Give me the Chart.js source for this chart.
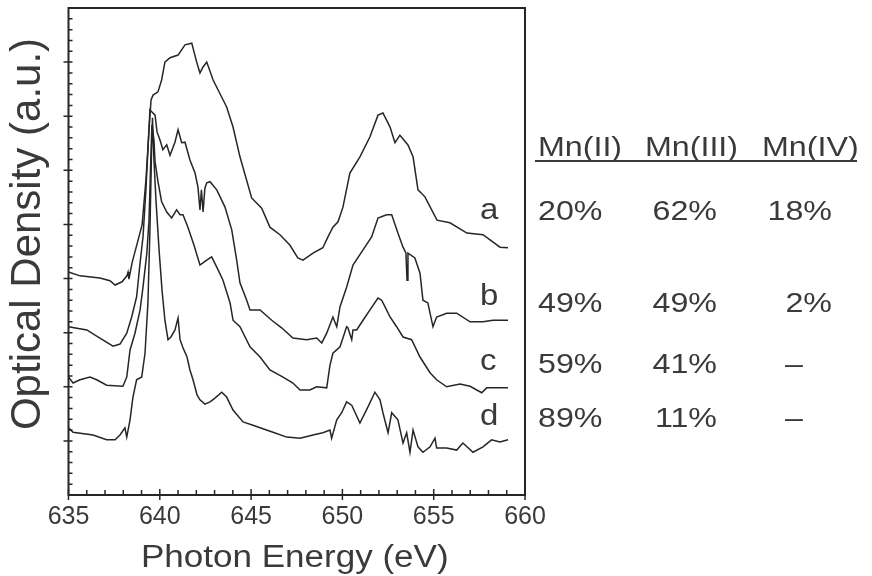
<!DOCTYPE html>
<html>
<head>
<meta charset="utf-8">
<script src="https://cdn.jsdelivr.net/npm/chart.js@4.4.1/dist/chart.umd.min.js"></script>
<style>
  html, body { margin: 0; padding: 0; background: #fff; }
  #wrap { width: 872px; height: 576px; }
</style>
</head>
<body>
<div id="wrap"><canvas id="spectra" width="872" height="576"></canvas></div>
<script>
// Mn L-edge spectra (photon energy in eV, optical density in a.u.)
const energyA = [635.0, 635.63, 636.72, 637.27, 637.55, 637.93, 638.2, 638.26, 638.31, 638.48, 638.81, 639.03, 639.24, 639.41, 639.52, 639.63, 639.9, 640.1, 640.28, 640.56, 641.0, 641.38, 641.75, 642.02, 642.2, 642.37, 642.57, 642.92, 643.66, 644.01, 644.39, 645.03, 645.58, 646.03, 646.58, 647.12, 647.56, 647.84, 648.39, 648.93, 649.21, 649.48, 649.76, 650.03, 650.41, 650.96, 651.51, 651.95, 652.22, 652.61, 652.88, 653.15, 653.59, 653.87, 654.14, 654.52, 655.18, 655.89, 656.82, 657.7, 658.63, 659.07];
const odA = [4.12, 4.05, 4.01, 3.96, 3.88, 3.94, 4.05, 4.12, 3.99, 4.29, 4.71, 4.99, 5.82, 6.75, 7.30, 7.39, 7.45, 7.67, 8.00, 8.08, 8.13, 8.32, 8.35, 8.00, 7.80, 7.91, 8.00, 7.67, 7.17, 6.80, 6.25, 5.49, 5.30, 4.95, 4.81, 4.62, 4.38, 4.34, 4.47, 4.57, 4.77, 4.95, 5.05, 5.32, 5.95, 6.25, 6.62, 7.02, 7.06, 6.80, 6.51, 6.65, 6.47, 6.25, 5.64, 5.51, 5.08, 5.03, 4.84, 4.81, 4.58, 4.57];

const energyB = [635.0, 636.0, 636.72, 637.44, 637.82, 638.19, 638.46, 638.73, 638.92, 639.08, 639.24, 639.35, 639.46, 639.57, 639.74, 639.85, 640.01, 640.17, 640.38, 640.56, 640.83, 641.0, 641.2, 641.38, 641.65, 641.93, 642.09, 642.2, 642.28, 642.37, 642.47, 642.57, 642.75, 643.12, 643.57, 643.94, 644.21, 644.39, 644.76, 644.94, 645.49, 646.13, 646.67, 647.29, 648.04, 648.59, 648.87, 649.14, 649.48, 649.69, 649.87, 650.23, 650.58, 651.13, 651.6, 651.95, 652.42, 652.7, 653.04, 653.32, 653.48, 653.54, 653.59, 653.97, 654.25, 654.41, 654.68, 654.96, 655.16, 655.71, 656.26, 656.99, 657.7, 658.25, 659.07];
const odB = [3.11, 3.05, 2.90, 2.75, 2.79, 2.99, 3.29, 3.66, 4.29, 4.77, 5.64, 6.38, 7.12, 7.08, 7.02, 6.71, 6.56, 6.38, 6.47, 6.28, 6.52, 6.75, 6.51, 6.52, 6.19, 5.95, 5.69, 5.27, 5.64, 5.23, 5.67, 5.77, 5.79, 5.64, 5.32, 4.90, 4.34, 3.92, 3.60, 3.42, 3.42, 3.23, 3.09, 2.90, 2.87, 2.90, 2.81, 2.99, 3.29, 3.11, 3.48, 3.84, 4.25, 4.53, 4.77, 5.12, 5.18, 5.18, 4.84, 4.58, 4.47, 3.97, 4.47, 4.38, 4.10, 3.60, 3.55, 3.11, 3.29, 3.36, 3.36, 3.20, 3.20, 3.23, 3.23];

const energyC = [635.0, 635.25, 635.63, 636.18, 636.54, 637.09, 637.98, 638.19, 638.37, 638.64, 638.92, 639.08, 639.29, 639.41, 639.49, 639.57, 639.68, 639.74, 639.9, 640.1, 640.38, 640.65, 640.92, 641.11, 641.27, 641.54, 641.87, 642.2, 642.57, 642.84, 643.12, 643.46, 643.85, 644.01, 644.39, 644.94, 645.49, 646.03, 646.75, 647.29, 647.68, 648.22, 648.59, 649.14, 649.32, 649.48, 649.87, 650.23, 650.3, 650.51, 650.58, 650.78, 651.13, 651.51, 651.95, 652.15, 652.33, 652.61, 652.97, 653.32, 653.79, 654.25, 654.8, 655.16, 655.71, 656.44, 656.99, 657.63, 657.9, 659.07];
const odC = [2.18, 2.07, 2.13, 2.18, 2.13, 2.03, 2.01, 2.18, 2.68, 2.99, 3.42, 3.84, 4.47, 5.08, 6.01, 6.84, 6.56, 6.16, 5.79, 5.42, 5.23, 5.12, 5.27, 5.18, 5.18, 4.95, 4.62, 4.25, 4.34, 4.40, 4.21, 3.97, 3.55, 3.23, 3.11, 2.74, 2.55, 2.31, 2.18, 2.07, 1.94, 1.94, 2.00, 1.98, 2.40, 2.62, 2.74, 3.11, 3.09, 2.87, 3.05, 3.05, 3.23, 3.42, 3.64, 3.60, 3.48, 3.29, 3.11, 2.92, 2.87, 2.55, 2.26, 2.13, 2.00, 2.05, 2.01, 1.89, 1.98, 1.98];

const energyD = [635.0, 635.25, 636.34, 637.09, 637.55, 637.82, 638.09, 638.19, 638.37, 638.53, 638.73, 639.01, 639.19, 639.35, 639.46, 639.55, 639.6, 639.68, 639.79, 639.96, 640.12, 640.28, 640.45, 640.61, 640.83, 641.0, 641.11, 641.27, 641.49, 641.65, 641.82, 642.04, 642.2, 642.47, 642.75, 643.02, 643.39, 643.66, 644.01, 644.56, 645.1, 646.2, 646.95, 647.68, 648.39, 648.93, 649.32, 649.41, 649.69, 649.96, 650.23, 650.51, 650.96, 651.4, 651.78, 652.06, 652.22, 652.5, 652.7, 653.04, 653.32, 653.52, 653.7, 653.87, 654.14, 654.41, 654.8, 655.07, 655.16, 655.71, 656.26, 656.6, 657.15, 657.7, 658.17, 658.63, 659.07];
const odD = [1.24, 1.16, 1.11, 1.02, 1.02, 1.11, 1.24, 1.07, 1.39, 1.81, 2.13, 2.18, 2.62, 3.55, 4.90, 6.38, 6.97, 6.19, 5.45, 4.53, 3.79, 3.23, 2.87, 2.92, 3.05, 3.27, 2.87, 2.72, 2.55, 2.31, 2.13, 1.85, 1.76, 1.68, 1.72, 1.79, 1.90, 1.81, 1.57, 1.35, 1.29, 1.16, 1.07, 1.05, 1.11, 1.15, 1.20, 1.05, 1.39, 1.52, 1.72, 1.66, 1.33, 1.63, 1.90, 1.76, 1.52, 1.15, 1.52, 1.39, 0.96, 1.15, 0.79, 1.20, 0.89, 0.79, 0.89, 1.05, 0.87, 0.87, 0.83, 0.96, 0.79, 0.89, 1.02, 0.98, 1.02];

const curveLabels = ['a', 'b', 'c', 'd'];
const tableHeader = ['Mn(II)', 'Mn(III)', 'Mn(IV)'];
const tableMnII = ['20%', '49%', '59%', '89%'];
const tableMnIII = ['62%', '49%', '41%', '11%'];
const tableMnIV = ['18%', '2%', '–', '–'];

const INK = '#262626';
const TEXT = '#3a3a3a';
const FONT = '"Liberation Sans", Arial, sans-serif';

function toPoints(xs, ys) {
  return xs.map((e, i) => ({ x: e, y: ys[i] }));
}

// draw text squeezed/stretched horizontally like the original artwork
function stretchText(ctx, str, x, y, size, align, sx) {
  ctx.save();
  ctx.font = size + 'px ' + FONT;
  ctx.textAlign = align;
  ctx.textBaseline = 'alphabetic';
  ctx.translate(x, y);
  ctx.scale(sx, 1);
  ctx.fillText(str, 0, 0);
  ctx.restore();
}

const framePlugin = {
  id: 'frame',
  afterDatasetsDraw(chart) {
    const { ctx, chartArea: a, scales: { x, y } } = chart;
    ctx.save();
    ctx.strokeStyle = INK;
    ctx.lineWidth = 2;
    ctx.strokeRect(a.left, a.top, a.right - a.left, a.bottom - a.top);

    // x ticks: minor every 1 eV inside, major every 5 eV through the axis
    ctx.lineWidth = 1.5;
    ctx.beginPath();
    for (let e = 635; e <= 660; e++) {
      const px = x.getPixelForValue(e);
      if (e % 5 === 0) {
        ctx.moveTo(px, a.bottom + 5);
        ctx.lineTo(px, a.bottom - 6);
      } else {
        ctx.moveTo(px, a.bottom);
        ctx.lineTo(px, a.bottom - 5);
      }
    }
    // y ticks: major every unit sticks out, minor every 0.2 inside
    for (let k = 1; k < 45; k++) {
      const py = y.getPixelForValue(k / 5);
      if (k % 5 === 0) {
        ctx.moveTo(a.left - 5, py);
        ctx.lineTo(a.left + 4, py);
      } else {
        ctx.moveTo(a.left, py);
        ctx.lineTo(a.left + 4, py);
      }
    }
    ctx.stroke();

    ctx.fillStyle = TEXT;
    // axis titles
    stretchText(ctx, 'Photon Energy (eV)', (a.left + a.right) / 2 - 2, 567, 31, 'center', 1.13);
    ctx.save();
    ctx.translate(40, 234);
    ctx.rotate(-Math.PI / 2);
    ctx.font = '42px ' + FONT;
    ctx.textAlign = 'center';
    ctx.fillText('Optical Density (a.u.)', 0, 0);
    ctx.restore();

    // curve letters
    const labelBase = [219, 305, 370, 425];
    curveLabels.forEach((s, i) => stretchText(ctx, s, 480, labelBase[i], 30, 'left', 1.1));

    // composition table
    tableHeader.forEach((s, i) => stretchText(ctx, s, [538, 645, 762][i], 156, 28, 'left', 1.15));
    ctx.fillRect(535, 160, 322, 2);
    const rowBase = [220, 312, 373, 427];
    rowBase.forEach((by, r) => {
      stretchText(ctx, tableMnII[r], 538, by, 28, 'left', 1.15);
      stretchText(ctx, tableMnIII[r], 717, by, 28, 'right', 1.15);
      if (tableMnIV[r] === '–') {
        stretchText(ctx, tableMnIV[r], 794, by, 28, 'center', 1.15);
      } else {
        stretchText(ctx, tableMnIV[r], 832, by, 28, 'right', 1.15);
      }
    });
    ctx.restore();
  }
};

const lineStyle = {
  borderColor: INK,
  borderWidth: 1.5,
  pointRadius: 0,
  fill: false,
  tension: 0
};

new Chart(document.getElementById('spectra'), {
  type: 'line',
  data: {
    datasets: [
      Object.assign({ label: 'a', data: toPoints(energyA, odA) }, lineStyle),
      Object.assign({ label: 'b', data: toPoints(energyB, odB) }, lineStyle),
      Object.assign({ label: 'c', data: toPoints(energyC, odC) }, lineStyle),
      Object.assign({ label: 'd', data: toPoints(energyD, odD) }, lineStyle)
    ]
  },
  options: {
    responsive: false,
    animation: false,
    devicePixelRatio: 1,
    layout: { padding: { left: 68.5, right: 347, top: 8, bottom: 0 } },
    plugins: { legend: { display: false }, tooltip: { enabled: false } },
    scales: {
      x: {
        type: 'linear',
        min: 635,
        max: 660,
        grid: { display: false, drawTicks: false },
        border: { display: false },
        ticks: {
          stepSize: 5,
          padding: 7,
          color: TEXT,
          font: { family: FONT, size: 25 }
        },
        afterFit(scale) { scale.height = 81; }
      },
      y: {
        type: 'linear',
        display: false,
        min: 0,
        max: 9
      }
    }
  },
  plugins: [framePlugin]
});
</script>
</body>
</html>
